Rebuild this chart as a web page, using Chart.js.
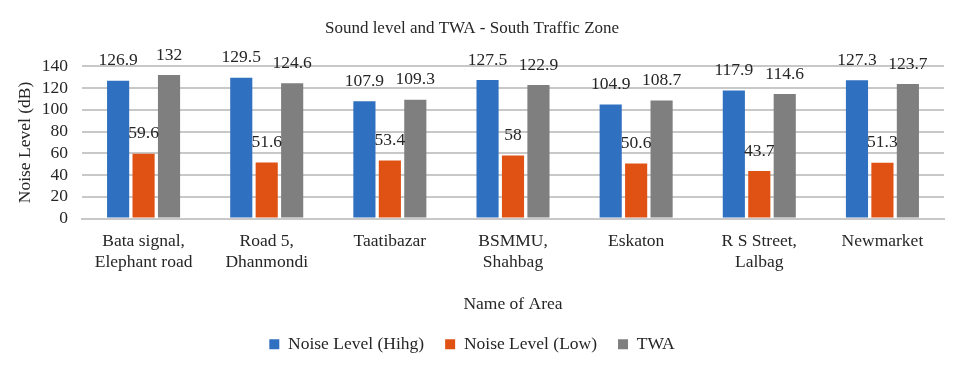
<!DOCTYPE html>
<html>
<head>
<meta charset="utf-8">
<script src="https://cdn.jsdelivr.net/npm/chart.js@4"></script>
<style>
  html, body { margin: 0; padding: 0; background: #fff; }
  #wrap { width: 960px; height: 365px; }
</style>
</head>
<body>
<div id="wrap"><canvas id="chart" width="960" height="365"></canvas></div>
<script>
const areas = [
    ['Bata signal,', 'Elephant road'],
    ['Road 5,', 'Dhanmondi'],
    'Taatibazar',
    ['BSMMU,', 'Shahbag'],
    'Eskaton',
    ['R S Street,', 'Lalbag'],
    'Newmarket'
];
const noiseHigh = [126.9, 129.5, 107.9, 127.5, 104.9, 117.9, 127.3];
const noiseLow = [59.6, 51.6, 53.4, 58, 50.6, 43.7, 51.3];
const twa = [132, 124.6, 109.3, 122.9, 108.7, 114.6, 123.7];
const yTicks = [0, 20, 40, 60, 80, 100, 120, 140];

const FONT = 'Liberation Serif, Times New Roman, serif';
const TEXT = '#262626';

// value labels above each bar
const barLabels = {
    id: 'barLabels',
    afterDatasetsDraw(chart) {
        const ctx = chart.ctx;
        ctx.save();
        ctx.font = '17.5px ' + FONT;
        ctx.fillStyle = TEXT;
        ctx.textAlign = 'center';
        ctx.textBaseline = 'middle';
        chart.data.datasets.forEach((ds, i) => {
            chart.getDatasetMeta(i).data.forEach((bar, j) => {
                ctx.fillText(String(ds.data[j]), bar.x, bar.y - 20);
            });
        });
        ctx.restore();
    }
};

new Chart(document.getElementById('chart'), {
    type: 'bar',
    data: {
        labels: areas,
        datasets: [
            { label: 'Noise Level (Hihg)', data: noiseHigh, backgroundColor: '#3070C0' },
            { label: 'Noise Level (Low)', data: noiseLow, backgroundColor: '#E05214' },
            { label: 'TWA', data: twa, backgroundColor: '#7F7F7F' }
        ]
    },
    options: {
        responsive: false,
        animation: false,
        datasets: {
            bar: { barPercentage: 0.87, categoryPercentage: 0.62 }
        },
        layout: { padding: { left: 0, right: 16, top: 0, bottom: 2 } },
        plugins: {
            title: {
                display: true,
                text: 'Sound level and TWA - South Traffic Zone',
                color: TEXT,
                font: { family: FONT, size: 17, weight: 'normal' },
                padding: { top: 18, bottom: 28 }
            },
            legend: {
                position: 'bottom',
                labels: {
                    color: TEXT,
                    font: { family: FONT, size: 17.5 },
                    boxWidth: 10,
                    boxHeight: 10,
                    padding: 21
                }
            },
            tooltip: { enabled: false }
        },
        scales: {
            x: {
                grid: { display: false },
                border: { color: '#C8C8C8', width: 2 },
                ticks: {
                    color: TEXT,
                    font: { family: FONT, size: 17.5, lineHeight: 1.2 },
                    padding: 4,
                    maxRotation: 0,
                    autoSkip: false
                },
                title: {
                    display: true,
                    text: 'Name of Area',
                    color: TEXT,
                    font: { family: FONT, size: 17.5 },
                    padding: { top: 17, bottom: 0 }
                }
            },
            y: {
                min: 0,
                max: 140,
                afterBuildTicks: (scale) => {
                    scale.ticks = yTicks.map(v => ({ value: v }));
                },
                afterFit: (scale) => { scale.width = 82; },
                grid: { color: '#C8C8C8', lineWidth: 2, drawTicks: false },
                border: { display: false },
                ticks: {
                    color: TEXT,
                    font: { family: FONT, size: 17.5 },
                    padding: 14,
                    autoSkip: false
                },
                title: {
                    display: true,
                    text: 'Noise Level (dB)',
                    color: TEXT,
                    font: { family: FONT, size: 17.5 },
                    padding: { top: 15, bottom: 4 }
                }
            }
        }
    },
    plugins: [barLabels]
});
</script>
</body>
</html>
